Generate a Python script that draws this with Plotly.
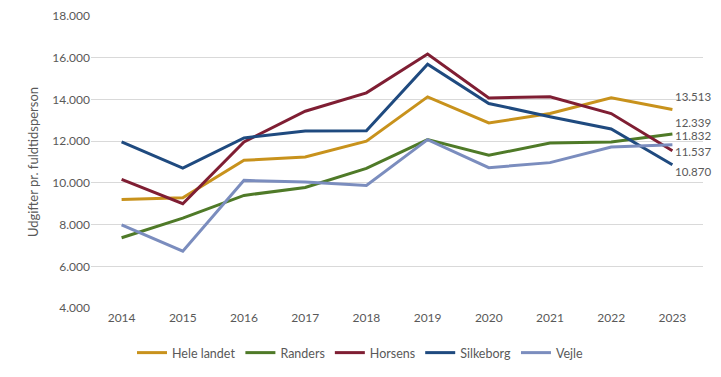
import plotly.graph_objects as go

years = [2014, 2015, 2016, 2017, 2018, 2019, 2020, 2021, 2022, 2023]
hele_landet = [9210, 9290, 11080, 11240, 12000, 14120, 12870, 13320, 14070, 13513]
randers = [7370, 8310, 9400, 9780, 10690, 12070, 11320, 11910, 11960, 12339]
horsens = [10170, 9000, 11960, 13430, 14310, 16170, 14070, 14120, 13320, 11537]
silkeborg = [11960, 10710, 12150, 12490, 12500, 15680, 13800, 13170, 12580, 10870]
vejle = [7990, 6730, 10120, 10040, 9880, 12070, 10730, 10970, 11720, 11832]

series = [
    ("Hele landet", hele_landet, "#C8921C"),
    ("Randers", randers, "#4F7A28"),
    ("Horsens", horsens, "#7F1E33"),
    ("Silkeborg", silkeborg, "#1F4A7F"),
    ("Vejle", vejle, "#7B8DBE"),
]
# vertical offsets (px) of end labels, to avoid overlap
label_shift = {"Hele landet": 13, "Randers": 12, "Horsens": -1, "Silkeborg": -7, "Vejle": 9}

def fmt(v):
    return f"{v:,}".replace(",", ".")

FONT = "Lato, Noto Sans, sans-serif"

fig = go.Figure()
for name, vals, col in series:
    fig.add_trace(go.Scatter(
        x=years, y=vals, name=name, mode="lines",
        line=dict(color=col, width=3),
    ))
    fig.add_annotation(
        x=years[-1], y=vals[-1], text=fmt(vals[-1]), showarrow=False,
        xanchor="left", yanchor="middle", xshift=2, yshift=label_shift[name],
        font=dict(family=FONT, size=11.5, color="#595959"), borderpad=0,
    )

fig.update_layout(
    width=721, height=377,
    margin=dict(l=91, r=18, t=15, b=68, autoexpand=False),
    paper_bgcolor="white", plot_bgcolor="white",
    font=dict(family=FONT, size=12, color="#595959"),
    showlegend=True,
    legend=dict(
        orientation="h", x=0.5, xanchor="center", xref="container",
        y=1 - 353 / 377, yanchor="middle", yref="container",
        font=dict(family=FONT, size=12.5, color="#595959"), itemwidth=30,
        tracegroupgap=0,
    ),
    xaxis=dict(
        range=[years[0] - 0.5, years[-1] + 0.5], tickvals=years,
        showgrid=False, zeroline=False, showline=False, automargin=False,
        ticks="", tickfont=dict(size=12, color="#595959"),
    ),
    yaxis=dict(
        range=[3960, 18040], tickvals=list(range(4000, 18001, 2000)),
        ticktext=[fmt(v) for v in range(4000, 18001, 2000)],
        showgrid=True, gridcolor="#D9D9D9", gridwidth=1, zeroline=False,
        showline=False, ticks="", automargin=False,
        tickfont=dict(size=12, color="#595959"),
        title=dict(text="Udgifter pr. fuldtidsperson", font=dict(size=13, color="#595959"), standoff=10),
    ),
)

fig.write_html(
    "out.html",
    config={"displayModeBar": False},
    post_script="document.body.style.margin='0';document.body.style.overflow='hidden';",
)
